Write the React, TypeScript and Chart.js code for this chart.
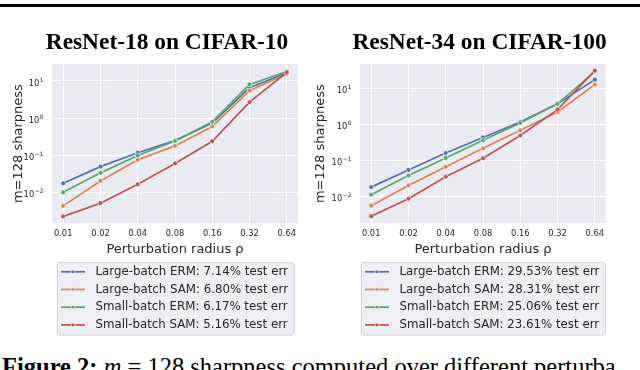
import React, { useEffect, useRef } from 'react';
import { Chart, registerables } from 'chart.js';

Chart.register(...registerables);

// ---------- data ----------
const radii = ['0.01', '0.02', '0.04', '0.08', '0.16', '0.32', '0.64'];
const methods = ['Large-batch ERM', 'Large-batch SAM', 'Small-batch ERM', 'Small-batch SAM'];
const seriesColors = ['#4C72B0', '#DD8452', '#55A868', '#C44E52'];

const testErr18 = [7.14, 6.8, 6.17, 5.16];
const testErr34 = [29.53, 28.31, 25.06, 23.61];

// ResNet-18 on CIFAR-10
const r18LargeErm = [0.0178, 0.05, 0.118, 0.25, 0.74, 6.6, 16.5];
const r18LargeSam = [0.0044, 0.0206, 0.076, 0.18, 0.6, 5.5, 15.5];
const r18SmallErm = [0.0102, 0.034, 0.1, 0.245, 0.8, 8.1, 18.0];
const r18SmallSam = [0.0023, 0.0052, 0.0168, 0.061, 0.24, 2.7, 17.0];

// ResNet-34 on CIFAR-100
const r34LargeErm = [0.018, 0.054, 0.16, 0.43, 1.16, 3.7, 17.4];
const r34LargeSam = [0.0055, 0.02, 0.066, 0.215, 0.68, 2.2, 12.6];
const r34SmallErm = [0.0111, 0.038, 0.116, 0.36, 1.09, 3.7, 29.0];
const r34SmallSam = [0.0028, 0.0086, 0.035, 0.114, 0.49, 2.55, 31.0];

const yTickValues = [0.01, 0.1, 1, 10];
const yTickBase = '10';
const yTickExps = ['\u22122', '\u22121', '0', '1'];

const xAxisTitle = 'Perturbation radius \u03C1';
const yAxisTitle = 'm=128 sharpness';

// ---------- style ----------
const SANS = "'DejaVu Sans', sans-serif";
const SERIF = "'Liberation Serif', 'Times New Roman', serif";
const INK = '#262626';
const PLOT_BG = '#EAEAF2';

const CANVAS_H = 345;
const AREA_TOP = 64;
const AREA_BOTTOM = 223.3;
const X_AXIS_H = 34;
const TITLE_SIZE = 23.4;
const TITLE_MID = 42.8;
const AXIS_TITLE_SIZE = 13;
const TICK_SIZE = 8.3;
const SUP_SIZE = 6;
const Y_TICK_PAD = 8.5;

const bgPlugin = {
  id: 'plotBg',
  beforeDraw(chart: any) {
    const { ctx, chartArea: a } = chart;
    ctx.save();
    ctx.fillStyle = PLOT_BG;
    ctx.fillRect(a.left, a.top, a.right - a.left, a.bottom - a.top);
    ctx.restore();
  },
};

// y tick labels as 10 with a raised exponent (mathtext-like)
const logTickPlugin = {
  id: 'logTicks',
  afterDraw(chart: any) {
    const s = chart.scales.y;
    const { ctx } = chart;
    ctx.save();
    ctx.fillStyle = INK;
    ctx.textBaseline = 'alphabetic';
    ctx.textAlign = 'left';
    yTickValues.forEach((v, i) => {
      const y = s.getPixelForValue(v);
      ctx.font = `${TICK_SIZE}px ${SANS}`;
      const baseW = ctx.measureText(yTickBase).width;
      ctx.font = `${SUP_SIZE}px ${SANS}`;
      const expW = ctx.measureText(yTickExps[i]).width;
      const right = s.right - Y_TICK_PAD;
      const x0 = right - expW - baseW - 0.5;
      const baseline = y + 1.5 + (TICK_SIZE * 0.729) / 2;
      ctx.font = `${TICK_SIZE}px ${SANS}`;
      ctx.fillText(yTickBase, x0, baseline);
      ctx.font = `${SUP_SIZE}px ${SANS}`;
      ctx.fillText(yTickExps[i], x0 + baseW + 0.5, baseline - TICK_SIZE * 0.45);
    });
    ctx.restore();
  },
};

const boxLegendPlugin = {
  id: 'boxLegend',
  afterDraw(chart: any, _args: any, opts: any) {
    const { ctx, chartArea: a } = chart;
    const items = chart.data.datasets.map((d: any) => ({ label: d.label, color: d.borderColor }));
    ctx.save();
    ctx.font = `${opts.fontSize}px ${SANS}`;
    const textW = Math.max(...items.map((i: any) => ctx.measureText(i.label).width));
    const w = opts.textOffset + textW + opts.padRight;
    const h = opts.height;
    const cx = (a.left + a.right) / 2;
    const x0 = Math.round(cx - w / 2) + 0.5;
    const y0 = Math.round(a.bottom + opts.gap) + 0.5;
    const r = 3;
    ctx.beginPath();
    ctx.moveTo(x0 + r, y0);
    ctx.lineTo(x0 + w - r, y0);
    ctx.arcTo(x0 + w, y0, x0 + w, y0 + r, r);
    ctx.lineTo(x0 + w, y0 + h - r);
    ctx.arcTo(x0 + w, y0 + h, x0 + w - r, y0 + h, r);
    ctx.lineTo(x0 + r, y0 + h);
    ctx.arcTo(x0, y0 + h, x0, y0 + h - r, r);
    ctx.lineTo(x0, y0 + r);
    ctx.arcTo(x0, y0, x0 + r, y0, r);
    ctx.closePath();
    ctx.fillStyle = 'rgba(234,234,242,0.8)';
    ctx.fill();
    ctx.strokeStyle = 'rgba(204,204,210,0.9)';
    ctx.lineWidth = 1;
    ctx.stroke();
    items.forEach((it: any, i: number) => {
      const y = y0 + opts.firstRow + i * opts.rowGap;
      ctx.strokeStyle = it.color;
      ctx.lineWidth = 1.7;
      ctx.beginPath();
      ctx.moveTo(x0 + 3.5, y);
      ctx.lineTo(x0 + 27.5, y);
      ctx.stroke();
      ctx.beginPath();
      ctx.arc(x0 + 15.5, y, 1.8, 0, Math.PI * 2);
      ctx.fillStyle = it.color;
      ctx.fill();
      ctx.strokeStyle = '#fff';
      ctx.lineWidth = 0.5;
      ctx.stroke();
      ctx.fillStyle = INK;
      ctx.textBaseline = 'middle';
      ctx.textAlign = 'left';
      ctx.fillText(it.label, x0 + opts.textOffset, y);
    });
    ctx.restore();
  },
};

type PanelProps = {
  title: string;
  series: number[][];
  errs: number[];
  yMin: number;
  yMax: number;
  left: number;
  width: number;
  areaLeft: number;
  areaRight: number;
  yLabelMid: number;
};

function Panel(p: PanelProps) {
  const ref = useRef<HTMLCanvasElement | null>(null);
  useEffect(() => {
    if (!ref.current) return;
    const titleLH = TITLE_SIZE * 1.2;
    const titlePadTop = TITLE_MID - titleLH / 2;
    const titlePadBottom = AREA_TOP - titlePadTop - titleLH;
    const axisLH = AXIS_TITLE_SIZE * 1.2;
    const chart = new Chart(ref.current, {
      type: 'line',
      data: {
        datasets: p.series.map((vals, i) => ({
          label: `${methods[i]}: ${p.errs[i].toFixed(2)}% test err`,
          data: vals.map((v, j) => ({ x: j, y: v })),
          xAxisID: 'x',
          yAxisID: 'y',
          borderColor: seriesColors[i],
          backgroundColor: seriesColors[i],
          borderWidth: 1.7,
          pointRadius: 2.4,
          pointBorderWidth: 0.6,
          pointBorderColor: '#ffffff',
          pointBackgroundColor: seriesColors[i],
          tension: 0,
          order: p.series.length - 1 - i,
        })),
      },
      options: {
        animation: false,
        responsive: false,
        devicePixelRatio: 1,
        events: [],
        layout: {
          padding: { left: 0, right: 0, top: 0, bottom: CANVAS_H - AREA_BOTTOM - X_AXIS_H },
        },
        plugins: {
          legend: { display: false },
          tooltip: { enabled: false },
          title: {
            display: true,
            text: p.title,
            color: '#000',
            font: { family: SERIF, size: TITLE_SIZE, weight: 'bold' },
            padding: { top: titlePadTop, bottom: titlePadBottom },
          },
          boxLegend: {
            fontSize: 11.8,
            textOffset: 38,
            padRight: 6,
            height: 72.6,
            gap: 38.4,
            firstRow: 9.3,
            rowGap: 17.7,
          },
        } as any,
        scales: {
          x: {
            type: 'linear',
            min: -0.3,
            max: 6.3,
            bounds: 'data',
            afterBuildTicks: (s: any) => {
              s.ticks = radii.map((_, i) => ({ value: i }));
            },
            afterFit: (s: any) => {
              s.height = X_AXIS_H;
            },
            ticks: {
              callback: (v: any) => radii[Math.round(Number(v))],
              autoSkip: false,
              maxRotation: 0,
              padding: 6,
              color: INK,
              font: { family: SANS, size: TICK_SIZE },
            },
            grid: { color: '#ffffff', lineWidth: 1, drawTicks: false },
            border: { display: false },
            title: {
              display: true,
              text: xAxisTitle,
              color: INK,
              font: { family: SANS, size: AXIS_TITLE_SIZE },
              padding: { top: 0, bottom: 0 },
            },
          },
          y: {
            type: 'logarithmic',
            position: 'left',
            min: p.yMin,
            max: p.yMax,
            afterBuildTicks: (s: any) => {
              s.ticks = yTickValues.map((v) => ({ value: v }));
            },
            afterFit: (s: any) => {
              s.width = p.areaLeft;
            },
            ticks: { display: false },
            grid: { color: '#ffffff', lineWidth: 1, drawTicks: false },
            border: { display: false },
            title: {
              display: true,
              text: yAxisTitle,
              color: INK,
              font: { family: SANS, size: AXIS_TITLE_SIZE },
              padding: { top: p.yLabelMid - axisLH / 2, bottom: 0 },
            },
          },
          yPad: {
            type: 'linear',
            position: 'right',
            display: true,
            grid: { display: false, drawTicks: false },
            border: { display: false },
            ticks: { display: false },
            afterFit: (s: any) => {
              s.width = p.width - p.areaRight;
            },
          },
        },
      } as any,
      plugins: [bgPlugin, logTickPlugin, boxLegendPlugin],
    });
    return () => chart.destroy();
  }, []);
  return (
    <canvas
      ref={ref}
      width={p.width}
      height={CANVAS_H}
      style={{ position: 'absolute', left: p.left, top: 0, width: p.width, height: CANVAS_H }}
    />
  );
}

export default function App() {
  return (
    <div
      style={{
        position: 'absolute',
        left: 0,
        top: 0,
        width: 640,
        height: 370,
        overflow: 'hidden',
        background: '#fff',
      }}
    >
      <div style={{ position: 'absolute', left: 0, top: 4, width: 640, height: 3, background: '#000' }} />
      <Panel
        title="ResNet-18 on CIFAR-10"
        series={[r18LargeErm, r18LargeSam, r18SmallErm, r18SmallSam]}
        errs={testErr18}
        yMin={0.0015}
        yMax={28.6}
        left={0}
        width={334}
        areaLeft={52}
        areaRight={298}
        yLabelMid={18.5}
      />
      <Panel
        title="ResNet-34 on CIFAR-100"
        series={[r34LargeErm, r34LargeSam, r34SmallErm, r34SmallSam]}
        errs={testErr34}
        yMin={0.00178}
        yMax={47.3}
        left={305}
        width={349}
        areaLeft={55}
        areaRight={301}
        yLabelMid={16}
      />
      <div
        style={{
          position: 'absolute',
          left: 2,
          top: 355,
          width: 614,
          overflow: 'hidden',
          whiteSpace: 'nowrap',
          fontFamily: SERIF,
          fontSize: 24.5,
          lineHeight: '24px',
          color: '#000',
        }}
      >
        <b>Figure 2:</b> <i>m</i> = 128 sharpness computed over different perturbation radii <i>{'\u03C1'}</i>
      </div>
    </div>
  );
}
